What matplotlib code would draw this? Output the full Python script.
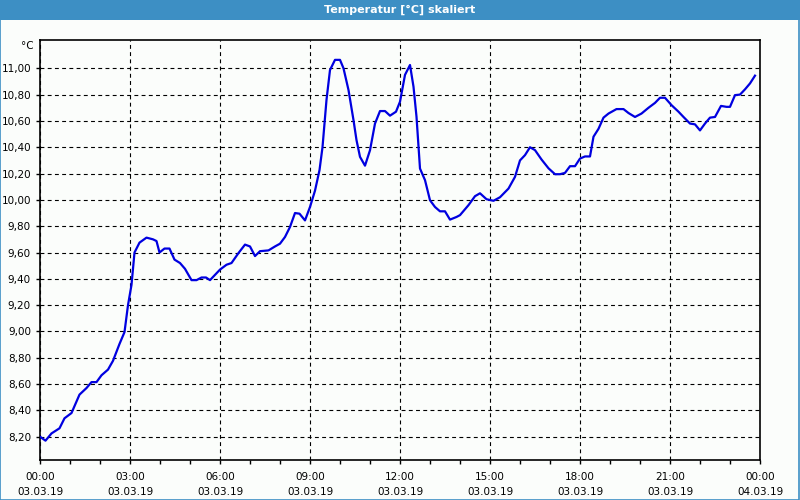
import numpy as np
import matplotlib
matplotlib.use("Agg")
import matplotlib.pyplot as plt
import matplotlib.dates as mdates
from matplotlib.patches import Rectangle
from matplotlib.ticker import FixedLocator, FuncFormatter

# minutes since 03.03.19 00:00 and temperature [°C]
minutes = [0, 11, 23, 39, 49, 63, 79, 93, 103, 113, 123, 136, 146, 159, 169, 176,
           183, 189, 199, 213, 226, 233, 239, 249, 259, 269, 280, 290, 303, 313,
           323, 332, 340, 360, 373, 383, 397, 410, 420, 430, 440, 457, 470, 480,
           490, 500, 510, 519, 530, 540, 550, 559, 565, 570, 573, 580, 590, 600,
           607, 617, 627, 633, 640, 650, 660, 670, 680, 690, 700, 712, 720, 730,
           740, 747, 753, 760, 770, 780, 790, 800, 810, 820, 833, 840, 857, 870,
           880, 893, 907, 920, 937, 950, 960, 970, 980, 990, 1003, 1017, 1030,
           1040, 1050, 1060, 1070, 1080, 1090, 1100, 1107, 1117, 1127, 1137, 1153,
           1167, 1177, 1190, 1203, 1217, 1230, 1240, 1250, 1263, 1277, 1287, 1300,
           1310, 1320, 1330, 1340, 1350, 1362, 1373, 1380, 1390, 1400, 1410, 1420,
           1430]
temps = [8.20, 8.17, 8.225, 8.264, 8.34, 8.38, 8.52, 8.57, 8.615, 8.615, 8.667,
         8.71, 8.777, 8.905, 8.995, 9.20, 9.354, 9.60, 9.675, 9.713, 9.70, 9.687,
         9.60, 9.63, 9.63, 9.546, 9.52, 9.476, 9.39, 9.39, 9.41, 9.41, 9.39, 9.47,
         9.507, 9.52, 9.596, 9.66, 9.646, 9.573, 9.61, 9.616, 9.646, 9.667, 9.718,
         9.794, 9.90, 9.895, 9.844, 9.946, 10.07, 10.226, 10.40, 10.62, 10.76,
         10.987, 11.064, 11.064, 11.00, 10.835, 10.606, 10.454, 10.327, 10.26,
         10.377, 10.58, 10.675, 10.675, 10.64, 10.67, 10.746, 10.95, 11.025, 10.86,
         10.632, 10.238, 10.15, 9.997, 9.946, 9.913, 9.913, 9.85, 9.87, 9.884,
         9.96, 10.028, 10.05, 10.005, 9.993, 10.02, 10.086, 10.175, 10.30, 10.34,
         10.40, 10.378, 10.307, 10.24, 10.195, 10.195, 10.205, 10.256, 10.256,
         10.314, 10.33, 10.33, 10.48, 10.54, 10.625, 10.656, 10.69, 10.69, 10.66,
         10.63, 10.656, 10.70, 10.737, 10.776, 10.776, 10.72, 10.67, 10.63, 10.58,
         10.574, 10.528, 10.58, 10.625, 10.63, 10.714, 10.707, 10.707, 10.796,
         10.80, 10.84, 10.885, 10.944]
y_ticks = [8.2, 8.4, 8.6, 8.8, 9.0, 9.2, 9.4, 9.6, 9.8, 10.0, 10.2, 10.4, 10.6, 10.8, 11.0]

start = np.datetime64("2019-03-03T00:00")
times = start + np.array(minutes).astype("timedelta64[m]")

bg = "#fbfdfb"
bar_col = "#3d8fc4"

fig = plt.figure(figsize=(8, 5), dpi=100, facecolor=bg)

# title bar and frame
fig.patches.append(Rectangle((0, 0.96), 1, 0.04, transform=fig.transFigure,
                             facecolor=bar_col, edgecolor="none", zorder=0))
fig.patches.append(Rectangle((0.0006, 0.001), 0.9985, 0.99, transform=fig.transFigure,
                             facecolor="none", edgecolor=bar_col, lw=1.2, zorder=0))
fig.text(0.5, 0.98, "Temperatur [°C] skaliert", color="white", fontsize=8,
         fontweight="bold", ha="center", va="center")

ax = fig.add_axes([0.05, 0.08, 0.9, 0.84])
ax.set_facecolor(bg)
ax.plot(times, temps, color="#0000e0", lw=1.6, zorder=3)

ax.set_xlim(start, start + np.timedelta64(24, "h"))
ax.set_ylim(8.023, 11.215)

ax.xaxis.set_major_locator(mdates.HourLocator(byhour=range(0, 24, 3)))
ax.xaxis.set_minor_locator(mdates.HourLocator())
ax.xaxis.set_major_formatter(mdates.DateFormatter("%H:%M\n%d.%m.%y"))
ax.yaxis.set_major_locator(FixedLocator(y_ticks))
ax.yaxis.set_major_formatter(FuncFormatter(lambda v, p: f"{v:.2f}".replace(".", ",")))

ax.tick_params(axis="both", which="both", direction="out", length=3, width=1,
               labelsize=7.5, colors="black")
ax.tick_params(axis="x", which="major", pad=6)
for lab in ax.get_xticklabels():
    lab.set_linespacing(1.55)

ax.grid(True, which="major", color="black", linestyle=(0, (3.5, 3)), lw=0.8)
for s in ax.spines.values():
    s.set_linewidth(1.2)

fig.text(0.034, 0.908, "°C", fontsize=7.5, ha="center", va="center")

fig.savefig("out.png", dpi=100, facecolor=bg)
